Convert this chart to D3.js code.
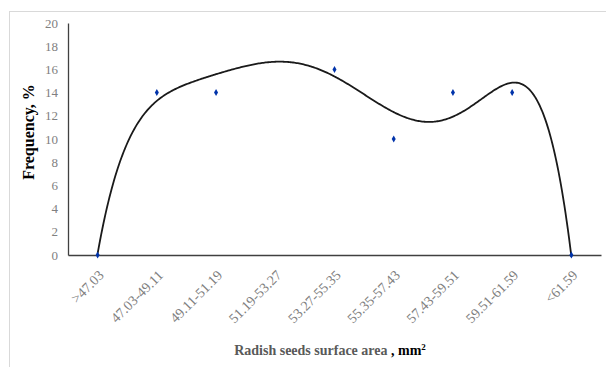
<!DOCTYPE html>
<html><head><meta charset="utf-8">
<script src="https://cdn.jsdelivr.net/npm/d3@7"></script>
<style>body{margin:0;background:#fff}</style>
</head><body>
<script>
const categories = [">47.03","47.03-49.11","49.11-51.19","51.19-53.27","53.27-55.35","55.35-57.43","57.43-59.51","59.51-61.59","<61.59"];
const frequency = [0,14,14,18,16,10,14,14,0];
const markerVisible = [true,true,true,false,true,true,true,true,true];
const yTicks = [0,2,4,6,8,10,12,14,16,18,20];
const trendOrder = 6;

const W=606,H=367;
const svg=d3.select("body").append("svg").attr("width",W).attr("height",H);
svg.append("rect").attr("x",9.5).attr("y",11.5).attr("width",610).attr("height",370)
  .attr("fill","#fff").attr("stroke","#d9d9d9");

const m={l:68,r:601,t:23,b:255};
const x=d3.scaleBand().domain(categories).range([m.l,m.r]);
const y=d3.scaleLinear().domain([0,20]).range([m.b,m.t]);
const xi=d3.scaleLinear().domain([1,categories.length]).range([x(categories[0])+x.bandwidth()/2,x(categories[categories.length-1])+x.bandwidth()/2]);

const font="'Liberation Serif','Times New Roman',serif";
const ya=svg.append("g").attr("transform",`translate(${m.l},0)`).call(d3.axisLeft(y).tickValues(yTicks).tickSize(0).tickPadding(10));
ya.select(".domain").attr("stroke","#404040").attr("stroke-width",1.3);
ya.selectAll("text").attr("font-family",font).attr("font-size",13).attr("fill","#808080");
const xa=svg.append("g").attr("transform",`translate(0,${m.b})`).call(d3.axisBottom(x).tickSize(0));
xa.select(".domain").attr("stroke","#404040").attr("stroke-width",1.3);
xa.selectAll("text").attr("font-family",font).attr("font-size",14).attr("fill","#808080")
  .attr("text-anchor","end").attr("dy",0).attr("dx",0)
  .attr("transform","translate(5,19) rotate(-45)");

// polynomial trendline (least squares, order 6) computed from data
const pts=frequency.map((v,i)=>[i+1,v]).filter(d=>d[1]!=null);
const c0=5;
const n=trendOrder+1;
const A=Array.from({length:n},()=>Array(n+1).fill(0));
pts.forEach(([xv,yv])=>{const t=xv-c0;for(let i=0;i<n;i++){for(let j=0;j<n;j++)A[i][j]+=Math.pow(t,i+j);A[i][n]+=yv*Math.pow(t,i);}});
for(let i=0;i<n;i++){let p=i;for(let k=i+1;k<n;k++)if(Math.abs(A[k][i])>Math.abs(A[p][i]))p=k;[A[i],A[p]]=[A[p],A[i]];
  for(let k=0;k<n;k++){if(k===i)continue;const f=A[k][i]/A[i][i];for(let j=i;j<=n;j++)A[k][j]-=f*A[i][j];}}
const coef=A.map((r,i)=>r[n]/r[i]);
const poly=xv=>{const t=xv-c0;return coef.reduce((s,c,i)=>s+c*Math.pow(t,i),0);};
const samples=d3.range(1,categories.length+0.0001,0.02);
svg.append("path").datum(samples).attr("fill","none").attr("stroke","#1a1a1a").attr("stroke-width",1.8)
  .attr("d",d3.line().x(d=>xi(d)).y(d=>y(poly(d))));

const sym=d3.symbol().type(d3.symbolDiamond).size(14);
svg.selectAll(".pt").data(frequency.map((v,i)=>({c:categories[i],v,show:markerVisible[i]})).filter(d=>d.v!=null&&d.show)).enter()
  .append("path").attr("d",sym).attr("fill","#0033aa")
  .attr("transform",d=>`translate(${x(d.c)+x.bandwidth()/2},${y(d.v)})`);

svg.append("text").attr("transform","translate(34,132) rotate(-90)").attr("text-anchor","middle")
  .attr("font-family",font).attr("font-size",16).attr("font-weight","bold").attr("fill","#000").text("Frequency, %");
const xt=svg.append("text").attr("x",330).attr("y",355).attr("text-anchor","middle")
  .attr("font-family",font).attr("font-size",14).attr("font-weight","bold");
xt.append("tspan").attr("fill","#595959").text("Radish seeds surface area ");
xt.append("tspan").attr("fill","#000").text(", mm");
xt.append("tspan").attr("fill","#000").attr("font-size",9).attr("dy",-5).text("2");
</script>
</body></html>
